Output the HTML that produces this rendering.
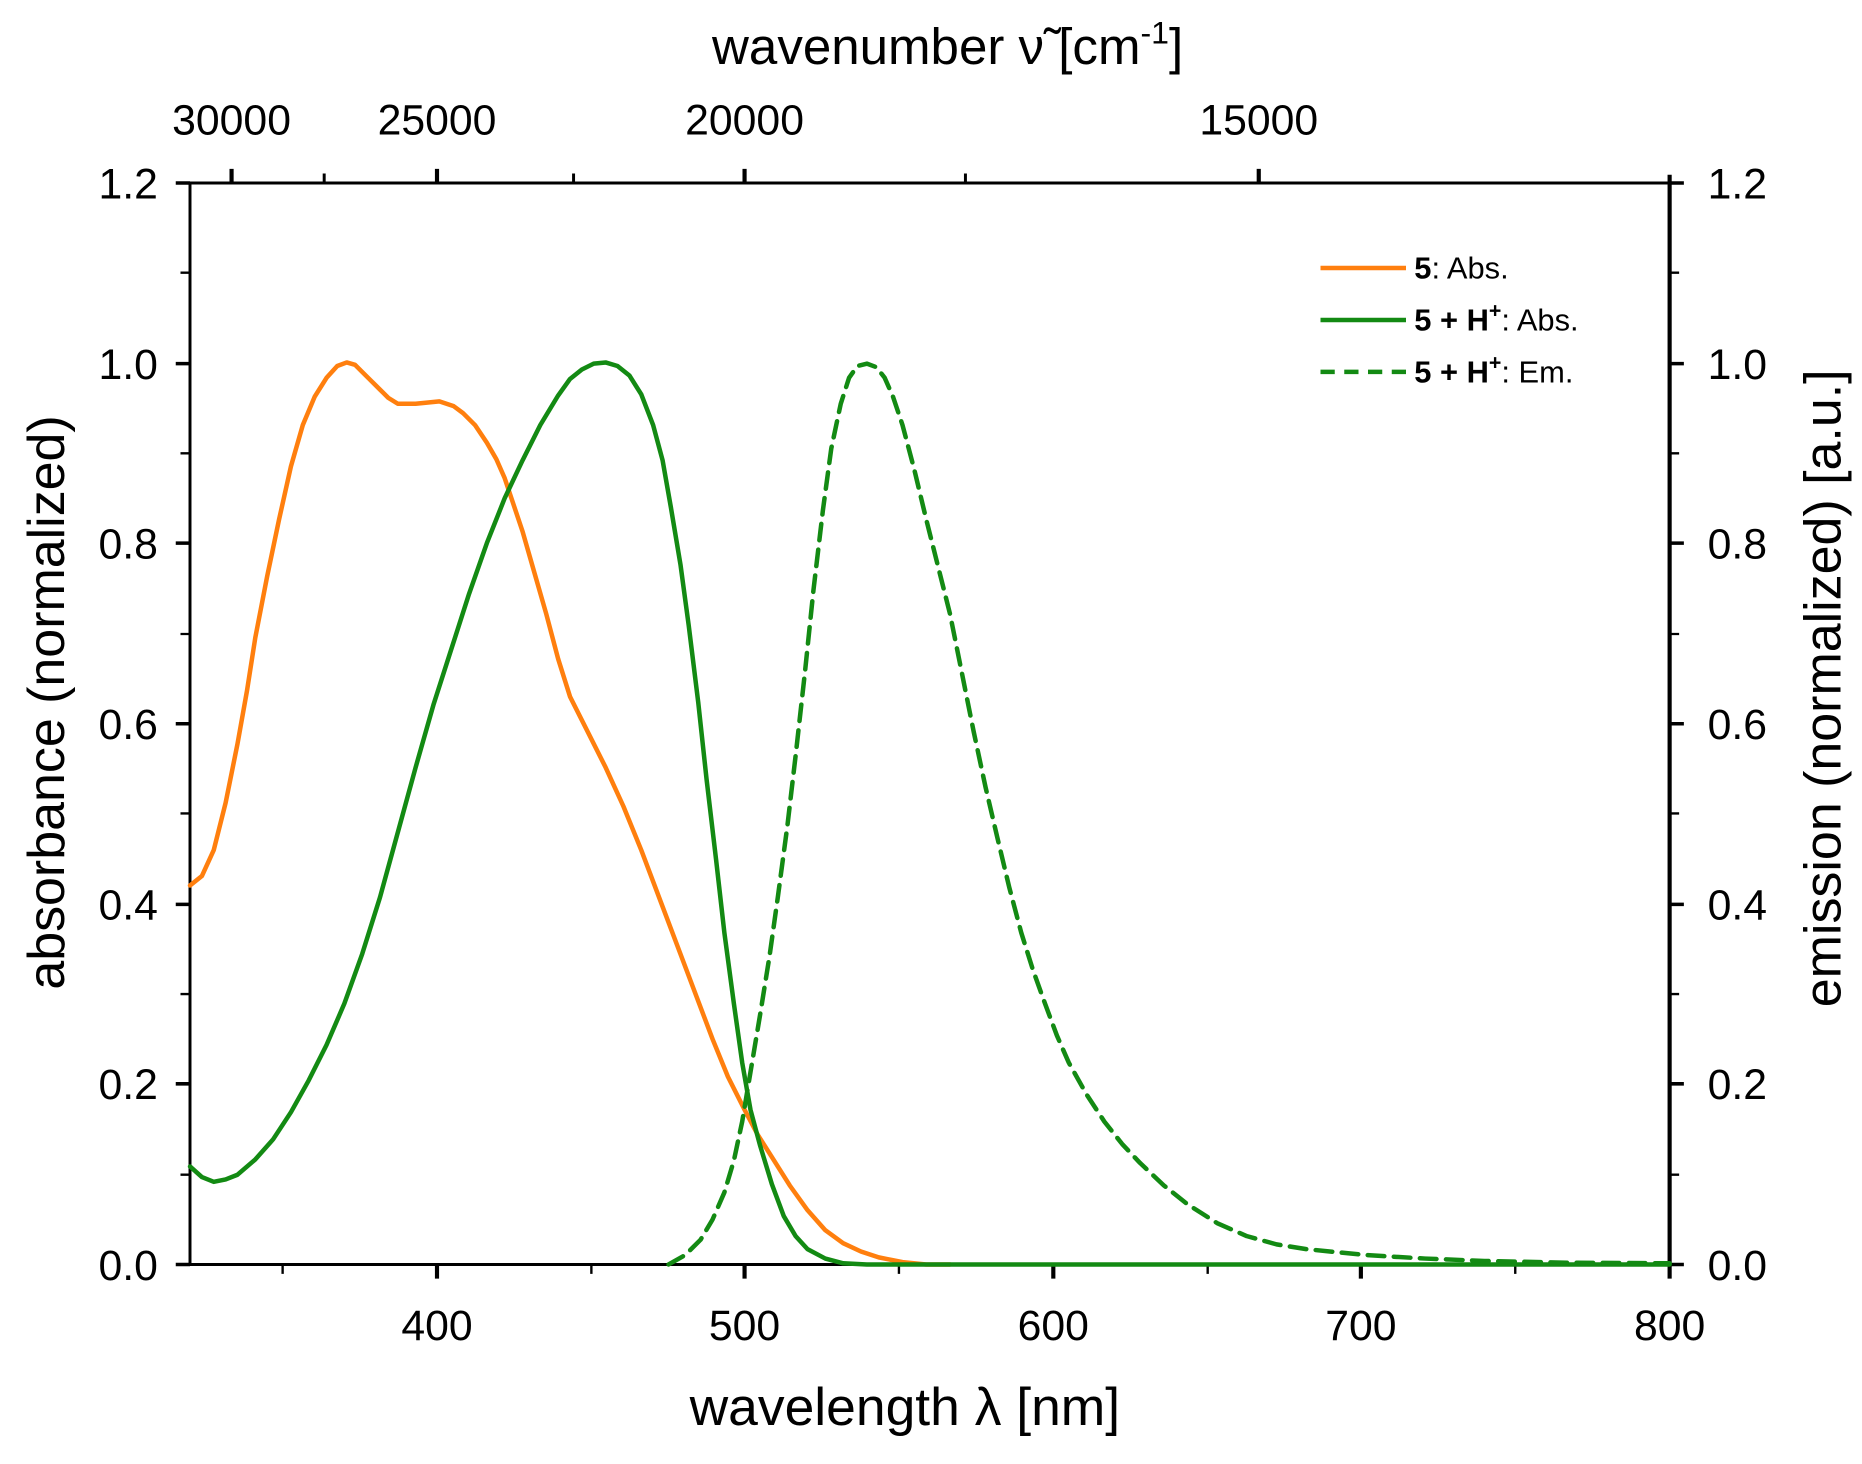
<!DOCTYPE html>
<html><head><meta charset="utf-8"><style>html,body{margin:0;padding:0;background:#fff}svg{display:block}</style></head>
<body>
<svg width="1862" height="1464" viewBox="0 0 1568 1240" preserveAspectRatio="none" xmlns="http://www.w3.org/2000/svg" font-family="'Liberation Sans', 'DejaVu Sans', sans-serif">
<rect width="1568" height="1240" fill="#fff"/>
<g stroke="#000" fill="none">
<line x1="160" y1="155" x2="1406" y2="155" stroke-width="2.5"/>
<line x1="160" y1="1071" x2="1406" y2="1071" stroke-width="2.5"/>
<line x1="160" y1="155" x2="160" y2="1071" stroke-width="2.5"/>
<line x1="1406" y1="148" x2="1406" y2="1071" stroke-width="3.5"/>
<path d="M368 1071v12M627 1071v12M887 1071v12M1146 1071v12M1406 1071v12" stroke-width="3.5"/>
<path d="M238 1071v8M498 1071v8M757 1071v8M1017 1071v8M1276 1071v8" stroke-width="2"/>
<path d="M195 155v-12M368 155v-12M627 155v-12M1060 155v-12" stroke-width="3.5"/>
<path d="M273 155v-8M483 155v-8M813 155v-8" stroke-width="2.5"/>
<path d="M160 1071h-12M160 918h-12M160 766h-12M160 613h-12M160 460h-12M160 308h-12M160 155h-12" stroke-width="3"/>
<path d="M160 995h-8M160 842h-8M160 689h-8M160 537h-8M160 384h-8M160 231h-8" stroke-width="2"/>
<path d="M1406 1071h12M1406 918h12M1406 766h12M1406 613h12M1406 460h12M1406 308h12M1406 155h12" stroke-width="3"/>
<path d="M1406 995h8M1406 842h8M1406 689h8M1406 537h8M1406 384h8M1406 231h8" stroke-width="2"/>
</g>
<g font-size="36" fill="#000" text-anchor="middle">
<text x="368" y="1135">400</text><text x="627" y="1135">500</text><text x="887" y="1135">600</text><text x="1146" y="1135">700</text><text x="1406" y="1135">800</text>
<text x="195" y="114">30000</text><text x="368" y="114">25000</text><text x="627" y="114">20000</text><text x="1060" y="114">15000</text>
</g>
<g font-size="36" fill="#000" text-anchor="end">
<text x="133" y="1084">0.0</text><text x="133" y="931">0.2</text><text x="133" y="779">0.4</text><text x="133" y="626">0.6</text><text x="133" y="473">0.8</text><text x="133" y="321">1.0</text><text x="133" y="168">1.2</text>
</g>
<g font-size="36" fill="#000" text-anchor="start">
<text x="1438" y="1084">0.0</text><text x="1438" y="931">0.2</text><text x="1438" y="779">0.4</text><text x="1438" y="626">0.6</text><text x="1438" y="473">0.8</text><text x="1438" y="321">1.0</text><text x="1438" y="168">1.2</text>
</g>
<text x="798" y="54" font-size="43" text-anchor="middle">wavenumber ν̃ [cm<tspan dy="-17" font-size="27">-1</tspan><tspan dy="17">]</tspan></text>
<text x="762" y="1207" font-size="45" text-anchor="middle">wavelength λ [nm]</text>
<text transform="translate(54,595) rotate(-90)" font-size="44" text-anchor="middle">absorbance (normalized)</text>
<text transform="translate(1550,583) rotate(-90)" font-size="44" text-anchor="middle">emission (normalized) [a.u.]</text>
<g fill="none" stroke-width="3.8" stroke-linejoin="round" stroke-linecap="round">
<polyline stroke="#ff7f0e" points="160,750 170,742 180,720 190,680 200,630 208,585 215,540 225,488 235,440 245,395 255,360 265,336 275,320 284,310 292,307 299,309 305,315 312,322 320,330 327,337 335,342 350,342 370,340 382,344 390,350 400,360 410,375 418,389 425,405 432,426 440,450 450,485 460,520 470,558 480,590 495,620 510,650 525,683 540,720 555,760 570,800 585,840 600,880 613,912 627,940 638,961 650,980 665,1004 680,1025 695,1042 710,1053 725,1060 740,1065 760,1069 780,1071 800,1071"/>
<polyline stroke="#138a13" points="160,988 170,997 180,1001 190,999 200,995 215,982 230,965 245,942 260,915 275,885 290,850 305,808 320,760 335,705 350,650 365,597 380,550 395,503 410,460 425,422 440,390 455,360 470,335 480,321 490,313 500,308 510,307 520,310 530,318 540,334 550,360 558,390 565,430 573,478 580,530 588,595 595,660 603,728 610,790 618,850 625,900 632,940 640,970 650,1003 660,1030 670,1047 680,1058 695,1066 710,1070 730,1071 1406,1071"/>
<polyline stroke="#138a13" stroke-dasharray="14,8" points="563,1071 577,1063 590,1050 600,1033 610,1010 618,983 625,950 632,908 640,860 648,810 655,760 663,700 670,640 678,568 685,500 693,432 700,380 708,342 715,320 722,310 730,308 738,311 745,320 752,336 760,360 770,398 780,440 790,480 800,520 810,570 820,620 830,667 840,710 850,752 860,790 870,822 880,850 890,877 900,900 915,927 930,950 945,969 960,985 980,1004 1000,1020 1025,1036 1050,1047 1075,1054 1100,1058 1150,1063 1200,1066 1250,1068 1320,1069.5 1406,1070"/>
</g>
<g stroke-width="3.8">
<line x1="1112" y1="227" x2="1184" y2="227" stroke="#ff7f0e"/>
<line x1="1112" y1="271" x2="1184" y2="271" stroke="#138a13"/>
<line x1="1112" y1="315" x2="1184" y2="315" stroke="#138a13" stroke-dasharray="12,8"/>
</g>
<g font-size="26" fill="#000">
<text x="1191" y="236"><tspan font-weight="bold">5</tspan>: Abs.</text>
<text x="1191" y="280"><tspan font-weight="bold">5 + H</tspan><tspan font-weight="bold" dy="-11" font-size="18">+</tspan><tspan dy="11">: Abs.</tspan></text>
<text x="1191" y="324"><tspan font-weight="bold">5 + H</tspan><tspan font-weight="bold" dy="-11" font-size="18">+</tspan><tspan dy="11">: Em.</tspan></text>
</g>
</svg>
</body></html>
